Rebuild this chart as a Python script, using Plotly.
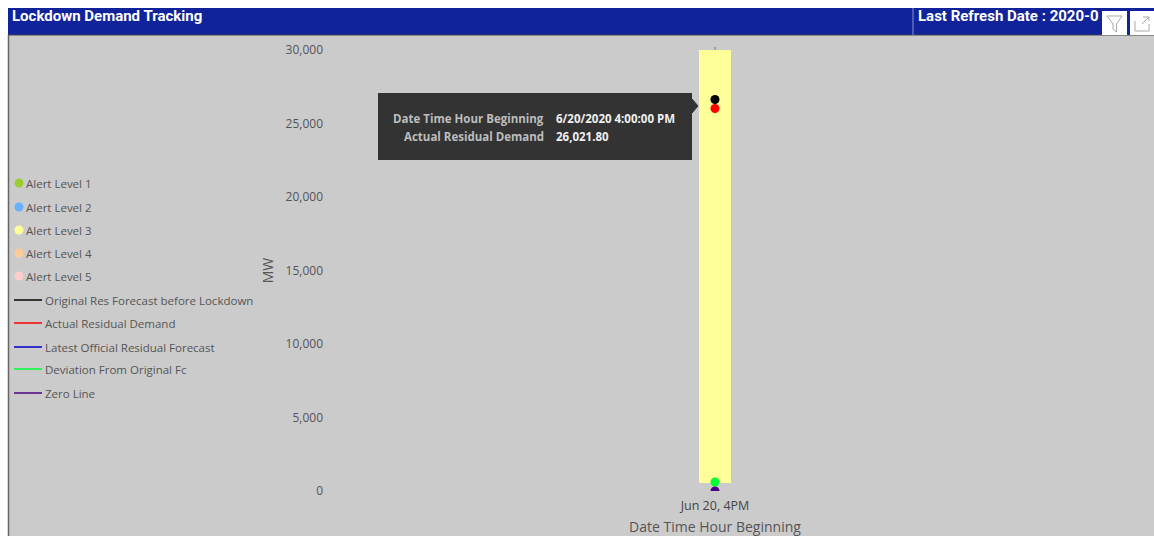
import plotly.graph_objects as go

W, H = 1154, 536
PLOT_L, PLOT_R, PLOT_T, PLOT_B = 330, 1100, 50, 491

# Chart values
time_labels = ["Jun 20, 4PM"]
alert_base = [544]
alert_level_3 = [29456]
original_forecast = [26632]
actual_demand = [26021.8]
deviation = [612]
zero_line = [0]
tick_values = [0, 5000, 10000, 15000, 20000, 25000, 30000]

alert_names = ["Alert Level 1", "Alert Level 2", "Alert Level 3", "Alert Level 4", "Alert Level 5"]
alert_colors = ["#9ACD32", "#66B2FF", "#FFFF99", "#FFCC99", "#FFCCCC"]
line_names = ["Original Res Forecast before Lockdown", "Actual Residual Demand",
              "Latest Official Residual Forecast", "Deviation From Original Fc", "Zero Line"]
line_colors = ["#000000", "#FF0000", "#0000CC", "#00FF33", "#4B0082"]

FONT = "Open Sans"
TEXT = "#555555"


def px(x):
    return (x - PLOT_L) / (PLOT_R - PLOT_L)


def py(y):
    return (PLOT_B - y) / (PLOT_B - PLOT_T)


def rect(x0, y0, x1, y1, fill, layer="below"):
    return dict(type="rect", xref="paper", yref="paper", x0=px(x0), x1=px(x1), y0=py(y0), y1=py(y1),
                fillcolor=fill, line_width=0, layer=layer)


def seg(x0, y0, x1, y1, color, width=1, layer="below"):
    return dict(type="line", xref="paper", yref="paper", x0=px(x0), x1=px(x1), y0=py(y0), y1=py(y1),
                line=dict(color=color, width=width), layer=layer)


def path(points, color, fill=None, width=1):
    d = "M " + " L ".join(f"{px(a):.5f},{py(b):.5f}" for a, b in points)
    if fill:
        d += " Z"
    return dict(type="path", xref="paper", yref="paper", path=d, layer="above",
                line=dict(color=color, width=width), fillcolor=fill or "rgba(0,0,0,0)")


def label(x, y, text, size=11.5, color=TEXT, anchor="left", family=FONT):
    return dict(xref="paper", yref="paper", x=px(x), y=py(y), text=text, showarrow=False,
                xanchor=anchor, yanchor="middle", align=anchor, borderpad=0, borderwidth=0,
                font=dict(family=family, size=size, color=color))


fig = go.Figure()
fig.add_bar(x=time_labels, y=alert_level_3, base=alert_base, width=32 / (PLOT_R - PLOT_L),
            marker=dict(color="#FFFF99", line_width=0))
for values, color in [(zero_line, line_colors[4]), (deviation, line_colors[3]),
                      (original_forecast, line_colors[0]), (actual_demand, line_colors[1])]:
    fig.add_scatter(x=time_labels, y=values, mode="markers", marker=dict(size=9, color=color, line_width=0))

shapes = [
    rect(8, 35, W, H, "#CBCBCB"),
    rect(8, 8, W, 35, "#10239A"),
    seg(8, 35, W, 35, "#444444"),
    seg(8.5, 35, 8.5, H, "#666666", 1.5),
    seg(913, 8, 913, 35, "#8A93CC"),
    seg(715, 47, 715, 491, "#777777"),
    # tooltip
    rect(378, 93, 692, 160, "#333333", "above"),
    path([(692, 99), (698, 106), (692, 113)], "#333333", "#333333"),
    # toolbar buttons
    rect(1102, 11, 1127, 35, "#FFFFFF", "above"),
    rect(1130, 11, 1154, 35, "#FFFFFF", "above"),
    path([(1107, 16), (1122, 16), (1116.5, 24), (1116.5, 32), (1113, 29), (1113, 24)], "#A8A8A8", "#FFFFFF"),
    path([(1135, 21), (1135, 31), (1149, 31), (1149, 24)], "#A8A8A8"),
    path([(1143, 17), (1149, 17), (1149, 21)], "#A8A8A8"),
    path([(1142, 24), (1149, 17)], "#A8A8A8"),
]

annotations = [
    label(12, 16, "<b>Lockdown Demand Tracking</b>", 15, "#FFFFFF", family="Roboto"),
    label(918, 16, "<b>Last Refresh Date : 2020-0</b>", 15, "#FFFFFF", family="Roboto"),
    label(544, 118, "<b>Date Time Hour Beginning</b>", 11.5, "#BDBDBD", "right"),
    label(544, 136, "<b>Actual Residual Demand</b>", 11.5, "#BDBDBD", "right"),
    label(556, 118, "<b>6/20/2020 4:00:00 PM</b>", 11.5, "#F0F0F0"),
    label(556, 136, "<b>26,021.80</b>", 11.5, "#F0F0F0"),
]

# legend drawn as a compact left-hand column
alert_rows = [183, 207, 230, 253, 276]
line_rows = [300, 323, 347, 369, 393]
for name, color, y in zip(alert_names, alert_colors, alert_rows):
    shapes.append(dict(type="circle", xref="paper", yref="paper", x0=px(14.5), x1=px(23.5),
                       y0=py(y + 4.5), y1=py(y - 4.5), fillcolor=color, line_width=0, layer="below"))
    annotations.append(label(26, y, name))
for name, color, y in zip(line_names, line_colors, line_rows):
    shapes.append(seg(14, y, 42, y, color, 1.5))
    annotations.append(label(45, y, name))

fig.update_layout(
    width=W, height=H, autosize=False, showlegend=False, hovermode=False,
    margin=dict(l=PLOT_L, r=W - PLOT_R, t=PLOT_T, b=H - PLOT_B),
    paper_bgcolor="#FFFFFF", plot_bgcolor="rgba(0,0,0,0)",
    font=dict(family=FONT, color=TEXT, size=12),
    shapes=shapes, annotations=annotations,
    xaxis=dict(type="category", range=[-0.5, 0.5], automargin=False, showgrid=False, zeroline=False,
               showline=False, ticks="", ticklabelstandoff=5, tickfont=dict(size=12.5, color="#444444"),
               title=dict(text="Date Time Hour Beginning", font=dict(size=14, color=TEXT), standoff=9)),
    yaxis=dict(range=[0, 30000], tickvals=tick_values, tickformat=",d", automargin=False, showgrid=False,
               zeroline=False, showline=False, ticks="", ticklabelstandoff=6, tickfont=dict(size=12, color=TEXT),
               title=dict(text="MW", font=dict(size=14, color=TEXT), standoff=8)),
)

fig.write_html("out.html", config=dict(displayModeBar=False))
